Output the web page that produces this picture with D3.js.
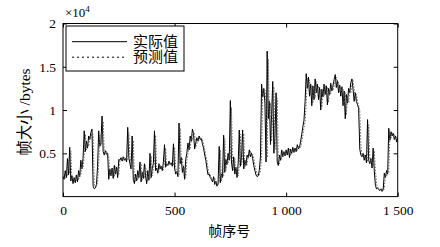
<!DOCTYPE html>
<html>
<head>
<meta charset="utf-8">
<script src="https://cdn.jsdelivr.net/npm/d3@7"></script>
<style>
  body { margin: 0; background: #fff; }
  svg text { font-family: "Liberation Serif", "Noto Sans CJK SC", serif; fill: #000; }
</style>
</head>
<body>
<div id="chart"></div>
<script>
// frame index (every 5th frame)
const frames = d3.range(0, 1501, 5);

// actual frame size (bytes)
const actual = [
  2300,2000,3000,2200,4400,2500,5700,1800,2400,1500,2200,1600,2500,1700,3000,2300,4200,3200,4500,7600,
  5200,6400,5600,7000,6600,7400,7800,1200,900,1000,1400,3500,7600,5800,6200,9300,5200,4800,5300,4900,
  5000,2000,3200,2400,3300,2100,3600,2600,3400,2200,4300,4200,4500,4100,4600,4200,4400,4000,8000,4500,
  3800,3200,7000,2000,1500,2600,1800,3000,2200,4000,1700,2800,2100,3800,2400,1500,3000,1900,5000,2200,
  3300,3800,7600,3000,3300,2700,3800,3200,3500,3000,4000,6000,3400,3800,3600,4100,3700,3900,3500,6100,
  3300,2600,2900,2300,8500,3800,4500,2800,3500,2000,4300,5000,6200,5400,7000,6400,7800,7300,5500,6200,
  6800,6400,7000,6600,6700,6100,5600,4800,4200,3300,2500,2600,2200,2000,1700,2300,1400,1800,1200,1500,
  5800,1600,2600,2200,7100,2800,4300,3700,5000,4200,11100,4000,3000,4600,2600,3400,2200,3800,7700,3500,
  4500,7700,3200,4200,3600,4800,4500,5400,4600,5000,4400,3600,3000,2500,2300,2400,3100,4600,13000,11500,
  12500,10800,4000,16800,9000,11000,6000,9500,13300,5000,7000,12000,4000,3600,4800,4200,5400,4600,5200,4700,
  5400,4800,5600,4500,5500,5000,5700,5100,5600,5200,6000,5500,5700,6400,7200,8100,8800,11000,14200,12500,
  13800,11600,13000,10500,12800,11200,13600,12000,13000,11200,12600,10000,12400,11500,13000,11800,12800,10600,12500,11800,
  13100,12200,12800,13500,14100,12600,13400,12000,12900,11600,12700,10500,12200,9000,11800,10800,12500,12000,13200,13600,
  12400,11000,12000,11000,10600,10200,5500,4800,4600,5000,4200,4800,3900,8900,4200,3800,4400,3300,5600,3000,
  1300,900,1000,800,700,900,600,800,2700,2200,3000,2600,7900,6500,7500,7000,7300,6600,7000,6300,
  6800
];

// predicted frame size (bytes)
const predicted = [
  2200,2300,2100,2900,2400,4200,2700,5300,2000,2300,1700,2100,1800,2400,1900,2900,2500,4000,3400,4700,
  7200,5400,6200,5800,6800,6700,7300,7200,1500,1100,1200,1700,3800,7200,5900,6500,8700,5300,5000,5200,
  4900,4700,2300,3100,2600,3200,2300,3500,2700,3300,2500,4200,4300,4400,4200,4500,4300,4300,4200,7400,
  4600,3900,3400,6500,2200,1700,2500,1900,2900,2300,3800,1900,2700,2200,3600,2500,1700,2900,2000,4700,
  2400,3200,3900,7100,3200,3200,2900,3700,3300,3400,3100,3900,5600,3500,3700,3700,4000,3700,3800,3600,
  5700,3400,2700,2800,2500,7900,4000,4400,2900,3400,2200,4200,4900,6000,5500,6800,6500,7500,7200,5700,
  6100,6700,6500,6900,6600,6600,6000,5500,4700,4200,3200,2600,2500,2200,2000,1800,2200,1500,1700,1300,
  1700,5400,1800,2500,2300,6700,3000,4200,3800,4900,4400,10300,4200,3100,4400,2700,3300,2400,3700,7200,
  3700,4500,7300,3400,4100,3700,4700,4600,5300,4700,4900,4400,3700,3100,2600,2400,2500,3000,4700,12400,
  11600,12300,10900,4500,15900,9300,10800,6400,9300,12700,5400,7000,11400,4300,3800,4700,4300,5300,4700,5100,
  4800,5300,4900,5500,4700,5400,5100,5600,5200,5500,5300,5900,5600,5700,6300,7100,8000,8700,10700,13700,
  12600,13500,11800,12800,10800,12600,11400,13300,12100,12800,11400,12400,10300,12200,11600,12800,11900,12600,10900,12300,
  11900,12900,12300,12700,13400,13800,12700,13200,12100,12700,11800,12500,10800,12000,9400,11600,10900,12300,12000,13000,
  13400,12400,11200,11800,11000,10500,10000,5900,4900,4700,4900,4300,4700,4000,8300,4400,3900,4300,3500,5300,
  3100,1500,1000,1000,800,800,900,700,900,2500,2300,2900,2800,7500,6700,7400,7000,7200,6700,6900,
  6400
];

const xTicks = [0, 500, 1000, 1500];
const xTickLabels = ["0", "500", "1 000", "1 500"];
const yTicks = [5000, 10000, 15000, 20000];
const yTickLabels = ["0.5", "1", "1.5", "2"];
const seriesNames = ["实际值", "预测值"];

// ---------------------------------------------------------------------------
// SVG setup
// ---------------------------------------------------------------------------
const W = 440, H = 247;
const margin = { top: 23.5, right: 42.3, bottom: 50.4, left: 63 };
const width = W - margin.left - margin.right;
const height = H - margin.top - margin.bottom;

const svg = d3.select("#chart").append("svg")
  .attr("width", W).attr("height", H);

const g = svg.append("g")
  .attr("transform", `translate(${margin.left},${margin.top})`);

const x = d3.scaleLinear().domain([0, 1500]).range([0, width]);
const y = d3.scaleLinear().domain([0, 20000]).range([height, 0]);

// lines
const line = d3.line()
  .x((d, i) => x(frames[i]))
  .y(d => y(d));

g.append("path")
  .datum(actual)
  .attr("fill", "none")
  .attr("stroke", "#000")
  .attr("stroke-width", 1)
  .attr("d", line);

g.append("path")
  .datum(predicted)
  .attr("fill", "none")
  .attr("stroke", "#555")
  .attr("stroke-width", 0.9)
  .attr("stroke-dasharray", "1.5,1.5")
  .attr("d", line);

// axes (matlab style, ticks inside, mirrored)
const tk = 4;
g.append("g")
  .attr("transform", `translate(0,${height})`)
  .call(d3.axisBottom(x).tickValues(xTicks).tickSizeInner(-tk).tickSizeOuter(0)
    .tickPadding(9).tickFormat((d, i) => xTickLabels[i]));
g.append("g")
  .call(d3.axisTop(x).tickValues(xTicks).tickSizeInner(-tk).tickSizeOuter(0).tickFormat(""));
g.append("g")
  .call(d3.axisLeft(y).tickValues(yTicks).tickSizeInner(-tk).tickSizeOuter(0)
    .tickPadding(7).tickFormat((d, i) => yTickLabels[i]));
g.append("g")
  .attr("transform", `translate(${width},0)`)
  .call(d3.axisRight(y).tickValues(yTicks).tickSizeInner(-tk).tickSizeOuter(0).tickFormat(""));

g.selectAll(".domain").remove();
g.selectAll(".tick line").attr("stroke", "#000");
g.selectAll(".tick text")
  .style("font-family", "'Liberation Serif', serif")
  .style("font-size", "13.5px");

g.append("rect")
  .attr("width", width).attr("height", height)
  .attr("fill", "none").attr("stroke", "#000").attr("stroke-width", 1);

// x10^4 exponent
const expo = svg.append("text")
  .attr("x", margin.left + 2).attr("y", 17)
  .style("font-size", "13px");
expo.append("tspan").text("×10");
expo.append("tspan").attr("dy", -5).style("font-size", "9px").text("4");

// axis titles
svg.append("text")
  .attr("x", margin.left + width / 2 - 1).attr("y", 236)
  .attr("text-anchor", "middle")
  .style("font-size", "14px")
  .text("帧序号");

svg.append("text")
  .attr("transform", `translate(30,${margin.top + height / 2 + 2}) rotate(-90)`)
  .attr("text-anchor", "middle")
  .style("font-size", "15.5px")
  .text("帧大小 /bytes");

// legend
const lg = svg.append("g").attr("transform", "translate(66,26)");
lg.append("rect")
  .attr("width", 118).attr("height", 45)
  .attr("fill", "#fff").attr("stroke", "#000").attr("stroke-width", 1);
seriesNames.forEach((name, i) => {
  const yy = 15.7 + i * 15.5;
  lg.append("line")
    .attr("x1", 6).attr("x2", 61).attr("y1", yy).attr("y2", yy)
    .attr("stroke", "#000").attr("stroke-width", 1)
    .attr("stroke-dasharray", i === 1 ? "2,3" : null);
  lg.append("text")
    .attr("x", 67).attr("y", yy + 5)
    .style("font-size", "15px")
    .text(name);
});
</script>
</body>
</html>
